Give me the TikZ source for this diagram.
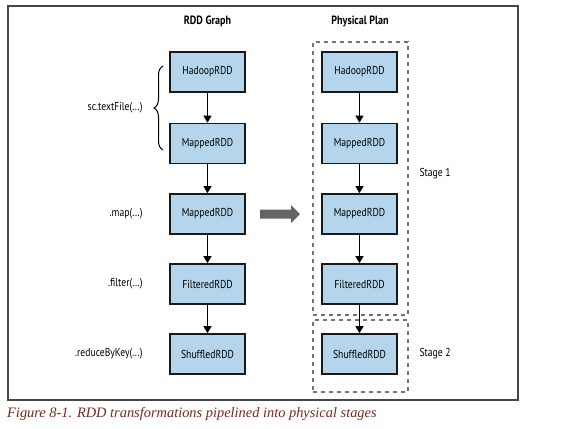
\documentclass[tikz,border=0pt]{standalone}
\usepackage{fontspec}
\setmainfont{Liberation Serif}
\newfontfamily\narrowfont[FakeStretch=0.84]{PT Sans}
\usetikzlibrary{arrows.meta,decorations.pathreplacing}
\definecolor{boxblue}{RGB}{180,213,235}
\definecolor{capred}{RGB}{120,40,30}
\definecolor{framegray}{RGB}{70,70,70}
\definecolor{dashgray}{RGB}{115,115,115}
\definecolor{bigarrow}{RGB}{100,100,100}
\tikzset{
  rdd/.style={draw=black!90, line width=1.7pt, fill=boxblue, minimum width=75pt, minimum height=40pt, inner sep=0pt, font=\narrowfont\fontsize{11.5}{13}\selectfont},
  flow/.style={-{Triangle[length=7pt,width=8pt]}, line width=1.2pt, black},
  oplabel/.style={anchor=east, font=\narrowfont\fontsize{11.5}{13}\selectfont},
  stagelabel/.style={anchor=west, font=\narrowfont\fontsize{11.5}{13}\selectfont},
  title/.style={font=\narrowfont\bfseries\fontsize{12}{14}\selectfont},
  stagebox/.style={draw=dashgray, line width=1.3pt, dash pattern=on 4pt off 4pt, inner sep=0pt}
}
\begin{document}
\begin{tikzpicture}[x=1pt,y=-1pt]
\useasboundingbox (0,0) rectangle (566,429);
\draw[framegray, line width=1.2pt] (8,6) rectangle (518,400);
\node[title] (t1) at (207.5,21) {RDD Graph};
\node[title] (t2) at (360,21) {Physical Plan};
% stage boxes
\node[stagebox, minimum width=95pt, minimum height=273pt] (s1) at (360.5,178.5) {};
\node[stagebox, minimum width=95pt, minimum height=72pt] (s2) at (360.5,356) {};
\node[stagelabel] (s1l) at (416,174) {Stage 1};
\node[stagelabel] (s2l) at (416,354) {Stage 2};
% left column
\node[rdd] (l1) at (207.5,72) {HadoopRDD};
\node[rdd] (l2) at (207.5,143.5) {MappedRDD};
\node[rdd] (l3) at (207.5,214) {MappedRDD};
\node[rdd] (l4) at (207.5,284) {FilteredRDD};
\node[rdd] (l5) at (207.5,354) {ShuffledRDD};
\foreach \a/\b in {l1/l2,l2/l3,l3/l4,l4/l5} \draw[flow] (\a) -- (\b);
% right column
\node[rdd] (r1) at (359.5,72) {HadoopRDD};
\node[rdd] (r2) at (359.5,143.5) {MappedRDD};
\node[rdd] (r3) at (359.5,214) {MappedRDD};
\node[rdd] (r4) at (359.5,284) {FilteredRDD};
\node[rdd] (r5) at (359.5,354) {ShuffledRDD};
\foreach \a/\b in {r1/r2,r2/r3,r3/r4,r4/r5} \draw[flow] (\a) -- (\b);
% operation labels
\node[oplabel] (o1) at (146,108) {sc.textFile(...)};
\node[oplabel] (o2) at (146,214) {.map(...)};
\node[oplabel] (o3) at (146,284) {.filter(...)};
\node[oplabel] (o4) at (146,354) {.reduceByKey(...)};
% brace
\coordinate (b1) at (163,150);
\coordinate (b2) at (163,66);
\draw[line width=1pt, decoration={brace, amplitude=9pt}, decorate] (b1) -- (b2);
% big arrow
\fill[bigarrow] (260,209.5) -- (291,209.5) -- (291,205) -- (300,214) -- (291,223) -- (291,218.5) -- (260,218.5) -- cycle;
% caption
\node[anchor=west, text=capred, font=\itshape\fontsize{14.4}{16}\selectfont, inner sep=0pt] (cap) at (7,414) {Figure 8-1. RDD transformations pipelined into physical stages};
\end{tikzpicture}
\end{document}
